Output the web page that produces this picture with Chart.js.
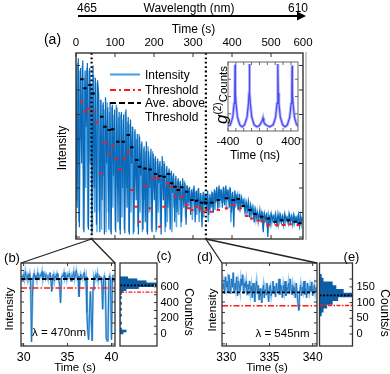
<!DOCTYPE html>
<html><head><meta charset="utf-8">
<script src="https://cdn.jsdelivr.net/npm/chart.js@4.4.1/dist/chart.umd.min.js"></script>
<style>
html,body{margin:0;padding:0;background:#fff;}
#wrap{position:relative;width:390px;height:374px;overflow:hidden;font-family:'Liberation Sans',Arial,Helvetica,sans-serif;color:#000;background:#fff;}
canvas{position:absolute;left:0;top:0;}
.t{position:absolute;white-space:nowrap;line-height:1;}
.t sup{font-size:10px;vertical-align:6px;font-style:normal;}
</style></head><body>
<div id="wrap">
<canvas id="cMain" width="390" height="374"></canvas>
<canvas id="cInset" width="390" height="374"></canvas>
<canvas id="cB" width="390" height="374"></canvas>
<canvas id="cC" width="390" height="374"></canvas>
<canvas id="cD" width="390" height="374"></canvas>
<canvas id="cE" width="390" height="374"></canvas>
<canvas id="cOver" width="390" height="374"></canvas>
</div>
<script>
// ================= DATA =================
const mainTopTickVals = [0, 100, 200, 300, 400, 500, 582];
const mainTopTickLabels = ['0', '100', '200', '300', '400', '500', '600'];
const mainYTicks = [0, 100, 200, 300, 400, 500, 600, 700];
const mainDt = 2.91; // sampling interval (s)
// binned intensity trace (dark blue)
const mainIntensity = [
  700, 120, 730, 40, 690, 300, 720, 20, 680, 450,
  710, 30, 690, 560, 10, 700, 200, 650, 50, 640,
  580, 20, 560, 150, 550, 10, 570, 300, 530, 30,
  550, 10, 540, 250, 520, 20, 530, 60, 510, 10,
  510, 200, 500, 15, 520, 120, 490, 10, 480, 300,
  450, 20, 440, 150, 420, 10, 410, 250, 390, 30,
  370, 60, 390, 10, 350, 200, 360, 20, 340, 150,
  330, 30, 320, 220, 310, 10, 330, 150, 300, 40,
  290, 120, 280, 30, 270, 180, 260, 60, 250, 100,
  240, 150, 230, 60, 240, 120, 220, 50, 210, 140,
  205, 90, 195, 150, 210, 60, 190, 120, 200, 100,
  180, 40, 185, 130, 170, 110, 190, 90, 175, 120,
  185, 100, 195, 140, 205, 110, 210, 150, 195, 120,
  205, 130, 210, 160, 195, 120, 200, 100, 185, 40,
  190, 140, 170, 110, 175, 120, 160, 130, 150, 100,
  140, 110, 145, 80, 130, 100, 120, 60, 110, 80,
  100, 70, 110, 60, 105, 20, 95, 70, 100, 0,
  90, 50, 95, 70, 85, 60, 90, 40, 95, 65,
  90, 60, 85, 50, 95, 70, 80, 55, 90, 60,
  85, 50, 90, 65, 80, 55, 90, 45, 85, 60
];
// raw intensity trace (light blue), sampled half a step later
const rawIntensity = [
  150, 710, 60, 680, 400, 700, 30, 650, 200, 690,
  40, 680, 300, 620, 20, 660, 100, 630, 20, 600,
  100, 560, 30, 540, 250, 520, 20, 550, 100, 510,
  20, 530, 120, 500, 30, 540, 200, 490, 30, 500,
  80, 480, 30, 510, 200, 470, 20, 460, 100, 450,
  10, 430, 250, 400, 40, 420, 100, 380, 20, 360,
  150, 350, 20, 370, 100, 330, 30, 350, 200, 320,
  20, 310, 100, 300, 40, 290, 200, 310, 20, 280,
  60, 270, 150, 260, 20, 250, 120, 240, 40, 230,
  90, 225, 40, 215, 150, 230, 80, 210, 120, 200,
  130, 190, 70, 200, 120, 185, 90, 195, 60, 180,
  110, 170, 80, 165, 140, 175, 60, 160, 120, 170,
  130, 180, 110, 190, 150, 200, 120, 195, 140, 185,
  140, 200, 110, 190, 150, 205, 60, 180, 140, 170,
  120, 175, 130, 165, 100, 160, 140, 150, 110, 140,
  90, 135, 100, 125, 70, 120, 90, 115, 70, 105,
  60, 95, 80, 100, 50, 90, 70, 85, 40, 95,
  70, 90, 55, 85, 75, 95, 60, 80, 50, 90,
  65, 85, 70, 90, 55, 80, 65, 95, 60, 85,
  70, 90, 55, 80, 70, 85, 60, 90, 50, 80
];
const aveT = [15, 23, 36, 44, 66, 74, 85, 94, 107, 121, 134, 143, 156, 163, 177, 190, 204, 215, 226, 237, 245, 254, 262, 271, 284, 297, 309, 322, 333, 348, 365, 386, 403, 416, 429, 446, 459, 476, 493, 510, 527, 544, 562, 574];
const aveV = [644, 607, 620, 586, 491, 450, 437, 440, 389, 389, 416, 366, 314, 287, 280, 276, 257, 249, 246, 257, 219, 205, 192, 203, 185, 151, 148, 140, 140, 140, 151, 158, 151, 155, 127, 110, 94, 83, 76, 62, 69, 69, 62, 56];
const thrT = [15, 23, 32, 43, 53, 63, 74, 85, 94, 104, 113, 124, 134, 143, 154, 162, 177, 190, 198, 209, 215, 226, 235, 244, 254, 262, 271, 284, 288, 297, 309, 318, 326, 335, 348, 365, 386, 403, 421, 438, 451, 467, 480, 493, 515, 532, 549, 570];
const thrV = [552, 511, 525, 511, 467, 260, 385, 339, 371, 321, 277, 321, 348, 192, 124, 62, 208, 117, 240, 240, 42, 124, 219, 205, 165, 195, 165, 131, 117, 110, 124, 117, 103, 110, 103, 110, 117, 131, 117, 86, 76, 67, 62, 49, 49, 49, 52, 49];
const markT = [40, 333];

const g2T = [-400, -370, -340, -322, -314, -310, -306, -298, -280, -250, -220, -190, -158, -140, -132, -128, -124, -116, -98, -68, -30, 0, 20, 35, 45, 55, 70, 95, 130, 175, 205, 223, 231, 235, 239, 247, 265, 295, 325, 355, 385, 403, 411, 415, 419, 427, 445, 470, 490];
const g2V = [0.07, 0.09, 0.2, 0.4, 0.55, 0.96, 0.55, 0.4, 0.2, 0.09, 0.06, 0.09, 0.2, 0.4, 0.55, 0.97, 0.55, 0.4, 0.2, 0.09, 0.06, 0.08, 0.12, 0.15, 0.19, 0.13, 0.1, 0.08, 0.06, 0.09, 0.2, 0.4, 0.55, 0.97, 0.55, 0.4, 0.2, 0.09, 0.06, 0.09, 0.2, 0.4, 0.55, 0.95, 0.55, 0.4, 0.2, 0.1, 0.07];
const g2TickVals = [-400, 0, 400];
const g2MinorTicks = [-400, -300, -200, -100, 0, 100, 200, 300, 400];

const bT0 = 29.8, bDt = 0.1;
const bIntensity = [
  650, 630, 665, 620, 690, 640, 610, 660, 635, 670,
  600, 20, 450, 640, 675, 620, 655, 610, 680, 640,
  625, 660, 645, 690, 615, 650, 670, 630, 660, 640,
  610, 655, 680, 620, 500, 640, 665, 600, 650, 630,
  670, 640, 615, 560, 390, 620, 655, 640, 680, 625,
  650, 610, 660, 640, 675, 630, 600, 655, 640, 690,
  620, 660, 700, 630, 645, 450, 610, 665, 640, 620,
  655, 680, 600, 640, 300, 120, 40, 300, 500, 250,
  30, 520, 640, 610, 660, 630, 675, 600, 650, 640,
  620, 580, 330, 620, 650, 600, 60, 30, 50, 620,
  650, 600, 40, 620, 660
];
const bLevels = [619, 533]; // average above threshold, threshold
const bTickVals = [30, 35, 40];
const histCBins = [15, 40, 65, 90, 115, 140, 165, 190, 215, 240, 265, 290, 315, 340, 365, 390, 415, 440, 465, 490, 515, 540, 565, 590, 615, 640, 665, 690, 715];
const histCCounts = [2, 4, 1, 0, 0, 1, 0, 0, 0, 1, 0, 0, 1, 0, 0, 1, 0, 0, 1, 0, 1, 2, 4, 12, 22, 24, 17, 11, 5];
const cTickVals = [0, 200, 400, 600];
const bcYTicks = [0, 100, 200, 300, 400, 500, 600, 700];

const dT0 = 329.6, dDt = 0.1;
const dIntensity = [
  130, 145, 120, 160, 135, 150, 125, 165, 140, 120,
  155, 135, 170, 125, 145, 130, 160, 115, 150, 140,
  125, 155, 140, 165, 120, 145, 135, 150, 118, 142,
  130, 150, 122, 138, 110, 145, 128, 100, 135, 150,
  120, 140, 105, 132, 115, 98, 125, 140, 110, 130,
  118, 145, 125, 100, 135, 140, 115, 128, 150, 120,
  138, 112, 145, 130, 125, 155, 118, 140, 132, 110,
  140, 125, 150, 115, 135, 128, 145, 120, 155, 130,
  118, 140, 125, 135, 110, 145, 120, 95, 80, 125,
  140, 115, 135, 125, 150, 118, 132, 110, 145, 128,
  120, 138, 125, 148, 115, 130, 140, 122, 135
];
const dLevels = [123, 91];
const dTickVals = [330, 335, 340];
const histEBins = [64, 76, 88, 100, 112, 124, 136, 148, 160, 172, 184];
const histECounts = [1, 2, 4, 7, 10, 18, 13, 9, 7, 2, 1];
const eTickVals = [0, 50, 100, 150];
const deYTicks = [0, 25, 50, 75, 100, 125, 150, 175];

// ================= HELPERS =================
const FONT = "'Liberation Sans', Arial, Helvetica, sans-serif";
const W = 390, H = 374;
function pad(l, t, r, b, ax) {
  ax = ax || {};
  return { left: l - (ax.left || 0), top: t - (ax.top || 0), right: W - r - (ax.right || 0), bottom: H - b - (ax.bottom || 0) };
}
const fitTo = size => s => { if (s.isHorizontal()) s.height = size; else s.width = size; };
const setTicks = vals => s => { s.ticks = vals.map(v => ({ value: v })); };
function hidden(min, max, pos) {
  return { type: 'linear', position: pos, min, max, grid: { display: false, drawTicks: false }, border: { display: false }, ticks: { display: false }, afterFit: fitTo(0) };
}
function labelled(min, max, pos, vals, labels, size, padding, room) {
  return { type: 'linear', position: pos, min, max, grid: { display: false, drawTicks: false }, border: { display: false }, afterFit: fitTo(room),
    afterBuildTicks: setTicks(vals),
    ticks: { display: true, autoSkip: false, maxRotation: 0, minRotation: 0, color: '#000', padding, font: { family: FONT, size },
      callback: (v, i) => labels[i] } };
}
function baseOpts(p, scales, extra) {
  return Object.assign({ responsive: false, animation: false, devicePixelRatio: 1, events: [],
    layout: { padding: p }, plugins: { legend: { display: false }, tooltip: { enabled: false } }, scales }, extra || {});
}
function frame(o) {
  return { id: 'frame', afterDraw(ch) {
    const { ctx, chartArea: a, scales } = ch; ctx.save();
    ctx.setLineDash([]);
    const L = o.len || 4; ctx.lineWidth = 1; ctx.strokeStyle = o.tc || '#333'; ctx.beginPath();
    (o.xt || []).forEach(v => { const x = scales.x.getPixelForValue(v);
      (o.xs || []).forEach(sd => { if (sd === 'top') { ctx.moveTo(x, a.top); ctx.lineTo(x, a.top + L); } else { ctx.moveTo(x, a.bottom); ctx.lineTo(x, a.bottom - L); } }); });
    (o.yt || []).forEach(v => { const y = scales.y.getPixelForValue(v);
      (o.ys || []).forEach(sd => { if (sd === 'left') { ctx.moveTo(a.left, y); ctx.lineTo(a.left + L, y); } else { ctx.moveTo(a.right, y); ctx.lineTo(a.right - L, y); } }); });
    ctx.stroke();
    ctx.strokeStyle = o.color || '#333'; ctx.lineWidth = o.lw || 1.3;
    ctx.strokeRect(a.left, a.top, a.right - a.left, a.bottom - a.top);
    ctx.restore();
  } };
}
function levels(list) {
  return { id: 'levels', afterDatasetsDraw(ch) {
    const { ctx, chartArea: a, scales } = ch; ctx.save();
    list.forEach(l => { const y = scales.y.getPixelForValue(l.v);
      ctx.strokeStyle = l.c; ctx.lineWidth = l.w; ctx.setLineDash(l.d);
      ctx.beginPath(); ctx.moveTo(a.left, y); ctx.lineTo(a.right, y); ctx.stroke(); });
    ctx.restore();
  } };
}
const whiteBg = { id: 'whiteBg', beforeDraw(ch) { const { ctx, chartArea: a } = ch; ctx.save(); ctx.fillStyle = '#fff'; ctx.fillRect(a.left - 1, a.top - 1, a.right - a.left + 2, a.bottom - a.top + 2); ctx.restore(); } };
const segs = (T, V, h) => { const out = []; T.forEach((t, i) => { out.push({ x: t - h, y: V[i] }, { x: t + h, y: V[i] }, { x: t + h, y: null }); }); return out; };
const lineDs = (data, color, width, order, dash) => ({ data, borderColor: color, borderWidth: width, pointRadius: 0, order, borderDash: dash || [], spanGaps: false, fill: false, tension: 0 });

// ================= MAIN (a) =================
const mainPts = mainIntensity.map((v, i) => ({ x: i * mainDt, y: v }));
const rawPts = rawIntensity.map((v, i) => ({ x: (i + 0.5) * mainDt, y: v }));
const markPlugin = { id: 'marks', afterDatasetsDraw(ch) {
  const { ctx, chartArea: a, scales } = ch; ctx.save();
  ctx.strokeStyle = '#000'; ctx.lineWidth = 2.2; ctx.setLineDash([1.8, 2.6]);
  markT.forEach(t => { const x = scales.x.getPixelForValue(t); ctx.beginPath(); ctx.moveTo(x, a.top); ctx.lineTo(x, a.bottom); ctx.stroke(); });
  ctx.setLineDash([]); ctx.strokeStyle = '#999'; ctx.lineWidth = 1;
  ctx.beginPath(); ctx.moveTo(a.right + 3, a.top - 1); ctx.lineTo(a.right + 3, a.bottom + 1); ctx.stroke();
  ctx.restore();
} };
const mainC = new Chart(document.getElementById('cMain'), {
  type: 'line',
  data: { datasets: [
    lineDs(segs(aveT, aveV, 4.5), '#000', 2, 0),
    lineDs(segs(thrT, thrV, 4.5), '#ff1a1a', 2, 1),
    lineDs(mainPts, '#0a69b8', 1.2, 2),
    lineDs(rawPts, '#4da5e6', 1.4, 3)
  ] },
  options: baseOpts(pad(76, 53, 303, 239, { top: 20 }), {
    x: labelled(0, 582, 'top', mainTopTickVals, mainTopTickLabels, 11.5, 3, 20),
    y: hidden(-8, 751, 'left')
  }),
  plugins: [markPlugin, frame({ xt: [0, 100, 200, 300, 400, 500], xs: ['top', 'bottom'], yt: mainYTicks, ys: ['left', 'right'], len: 4, lw: 1.4 })]
});

// ================= INSET g2 =================
const g2Pts = g2T.map((t, i) => ({ x: t, y: g2V[i] }));
new Chart(document.getElementById('cInset'), {
  type: 'line',
  data: { datasets: [ lineDs(g2Pts, '#4a4af0', 1.2, 0), lineDs(g2Pts, '#b8b8ff', 3, 1) ] },
  options: baseOpts(pad(228, 62, 298, 131, { bottom: 20 }), {
    x: labelled(-400, 490, 'bottom', g2TickVals, g2TickVals.map(String), 11.5, 3.5, 20),
    y: hidden(0, 1, 'left')
  }),
  plugins: [whiteBg, frame({ xt: g2MinorTicks, xs: ['top', 'bottom'], yt: [0.25, 0.5, 0.75], ys: ['left', 'right'], len: 3, lw: 1, color: '#666', tc: '#666' })]
});

// ================= (b) =================
const bPts = bIntensity.map((v, i) => ({ x: bT0 + i * bDt, y: v }));
const bC = new Chart(document.getElementById('cB'), {
  type: 'line',
  data: { datasets: [ lineDs(bPts, '#1f74bf', 1, 0), lineDs(bPts, '#8cc3ec', 2.2, 1) ] },
  options: baseOpts(pad(21, 263, 115, 346, { bottom: 22 }), {
    x: labelled(29.7, 40.4, 'bottom', bTickVals, bTickVals.map(String), 12.5, 4, 22),
    y: hidden(-19, 771, 'left')
  }),
  plugins: [levels([{ v: bLevels[0], c: '#000', w: 2, d: [4.5, 2.5] }, { v: bLevels[1], c: '#ff1a1a', w: 1.6, d: [6, 2, 1.5, 2] }]),
    frame({ xt: bTickVals, xs: ['bottom', 'top'], yt: bcYTicks, ys: ['left', 'right'], len: 3 })]
});

// ================= (c) =================
new Chart(document.getElementById('cC'), {
  type: 'bar',
  data: { datasets: [{ data: histCBins.map((b, i) => ({ x: histCCounts[i], y: b })), backgroundColor: '#0c5da6', borderWidth: 0, barPercentage: 1, categoryPercentage: 1 }] },
  options: baseOpts(pad(120, 263, 157, 346, { right: 28 }), {
    x: hidden(0, 24, 'bottom'),
    y: labelled(-19, 771, 'right', cTickVals, cTickVals.map(String), 11, 3.5, 28)
  }, { indexAxis: 'y' }),
  plugins: [levels([{ v: bLevels[0], c: '#000', w: 1.6, d: [2, 1.5] }, { v: bLevels[1], c: '#ff1a1a', w: 1.4, d: [4, 1.5, 1.5, 1.5] }]),
    frame({ yt: bcYTicks, ys: ['right'], len: 3 })]
});

// ================= (d) =================
const dPts = dIntensity.map((v, i) => ({ x: dT0 + i * dDt, y: v }));
const dC = new Chart(document.getElementById('cD'), {
  type: 'line',
  data: { datasets: [ lineDs(dPts, '#1f74bf', 1, 0), lineDs(dPts, '#8cc3ec', 2.2, 1) ] },
  options: baseOpts(pad(222, 263, 317, 346, { bottom: 22 }), {
    x: labelled(329.5, 340.5, 'bottom', dTickVals, dTickVals.map(String), 12, 4, 22),
    y: hidden(-5, 193, 'left')
  }),
  plugins: [levels([{ v: dLevels[0], c: '#000', w: 1.8, d: [3, 2] }, { v: dLevels[1], c: '#ff1a1a', w: 1.6, d: [6, 2, 1.5, 2] }]),
    frame({ xt: dTickVals, xs: ['bottom', 'top'], yt: deYTicks, ys: ['left', 'right'], len: 3 })]
});

// ================= (e) =================
new Chart(document.getElementById('cE'), {
  type: 'bar',
  data: { datasets: [{ data: histEBins.map((b, i) => ({ x: histECounts[i], y: b })), backgroundColor: '#0c5da6', borderWidth: 0, barPercentage: 1, categoryPercentage: 1 }] },
  options: baseOpts(pad(319.5, 263, 352.5, 346, { right: 26 }), {
    x: hidden(0, 18, 'bottom'),
    y: labelled(-5, 193, 'right', eTickVals, eTickVals.map(String), 11, 4, 26)
  }, { indexAxis: 'y' }),
  plugins: [levels([{ v: dLevels[0], c: '#000', w: 1.6, d: [2, 1.5] }, { v: dLevels[1], c: '#ff1a1a', w: 1.4, d: [4, 1.5, 1.5, 1.5] }]),
    frame({ yt: deYTicks, ys: ['right'], len: 3 })]
});

// ================= OVERLAY (arrow, legend samples, zoom lines) =================
(function () {
  const ctx = document.getElementById('cOver').getContext('2d');
  ctx.strokeStyle = '#000'; ctx.fillStyle = '#000'; ctx.lineWidth = 2;
  ctx.beginPath(); ctx.moveTo(78, 16); ctx.lineTo(299, 16); ctx.stroke();
  ctx.beginPath(); ctx.moveTo(297, 11.5); ctx.lineTo(306, 16); ctx.lineTo(297, 20.5); ctx.closePath(); ctx.fill();
  ctx.lineWidth = 2;
  ctx.strokeStyle = '#3f9fe2'; ctx.setLineDash([]);
  ctx.beginPath(); ctx.moveTo(110, 74.5); ctx.lineTo(140, 74.5); ctx.stroke();
  ctx.strokeStyle = '#ff1a1a'; ctx.setLineDash([6, 3, 2, 3]);
  ctx.beginPath(); ctx.moveTo(110, 90); ctx.lineTo(141, 90); ctx.stroke();
  ctx.strokeStyle = '#000'; ctx.setLineDash([6, 3]);
  ctx.beginPath(); ctx.moveTo(110, 103); ctx.lineTo(141, 103); ctx.stroke();
  ctx.setLineDash([]); ctx.strokeStyle = '#222'; ctx.lineWidth = 1.3;
  const mb = mainC.chartArea.bottom;
  [[markT[0], bC], [markT[1], dC]].forEach(([t, ch]) => {
    const x0 = mainC.scales.x.getPixelForValue(t);
    const a = ch.chartArea;
    ctx.beginPath(); ctx.moveTo(x0, mb); ctx.lineTo(a.left, a.top); ctx.stroke();
    ctx.beginPath(); ctx.moveTo(x0, mb); ctx.lineTo(a.right, a.top); ctx.stroke();
  });
})();

// ================= TEXT =================
const wrap = document.getElementById('wrap');
function txt(s, cx, cy, size, rot, opt) {
  opt = opt || {};
  const d = document.createElement('div'); d.className = 't';
  d.style.fontSize = size + 'px';
  if (opt.html) d.innerHTML = s; else d.textContent = s;
  d.style.left = cx + 'px'; d.style.top = cy + 'px';
  const tx = opt.left ? 'translate(0,-50%)' : 'translate(-50%,-50%)';
  d.style.transform = tx + (rot ? ' rotate(' + rot + 'deg)' : '');
  wrap.appendChild(d);
}
txt('465', 87, 8, 12);
txt('Wavelength (nm)', 189, 8, 12);
txt('610', 298, 8, 12);
txt('Time (s)', 193.5, 28.5, 12);
txt('(a)', 52.5, 39, 14);
txt('Intensity', 62, 148, 12, -90);
txt('Intensity', 145, 75, 12, 0, { left: true });
txt('Threshold', 145, 90, 12, 0, { left: true });
txt('Ave. above', 145, 103, 12, 0, { left: true });
txt('Threshold', 145, 117, 12, 0, { left: true });
txt('<i style="font-size:17px">g</i><sup>(2)</sup>Counts', 221, 95, 11.5, -90, { html: true });
txt('Time (ns)', 255, 155, 12);
txt('(b)', 12, 257, 13);
txt('(c)', 164, 255, 13);
txt('(d)', 205, 256, 13);
txt('(e)', 351.5, 256, 13);
txt('Intensity', 10, 309, 11.5, -90);
txt('Intensity', 212.5, 310, 11.5, -90);
txt('\u03bb = 470nm', 59, 333, 11.5);
txt('\u03bb = 545nm', 282.5, 334, 11.5);
txt('Time (s)', 75, 368, 11.5);
txt('Time (s)', 267, 368, 11.5);
txt('Counts/s', 189, 312, 12, 90);
txt('Counts/s', 385, 313, 12, 90);
</script>
</body></html>
